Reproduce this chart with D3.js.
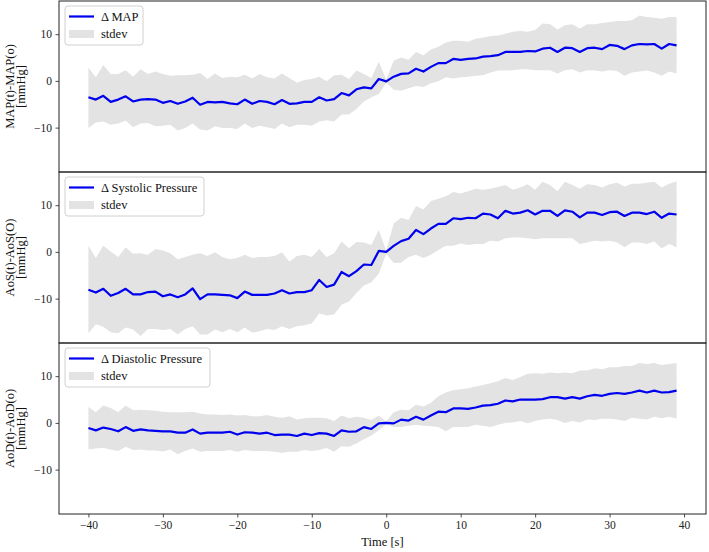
<!DOCTYPE html>
<html>
<head>
<meta charset="utf-8">
<script src="https://cdn.jsdelivr.net/npm/d3@7"></script>
<style>
  html, body { margin: 0; padding: 0; background: #fff; }
  svg { display: block; }
  text { font-family: "Liberation Serif", "DejaVu Serif", serif; }
</style>
</head>
<body>
<svg id="chart" width="709" height="552"></svg>
<script>
const time = [-40,-39,-38,-37,-36,-35,-34,-33,-32,-31,-30,-29,-28,-27,-26,-25,-24,-23,-22,-21,
  -20,-19,-18,-17,-16,-15,-14,-13,-12,-11,-10,-9,-8,-7,-6,-5,-4,-3,-2,-1,
  0,1,2,3,4,5,6,7,8,9,10,11,12,13,14,15,16,17,18,19,
  20,21,22,23,24,25,26,27,28,29,30,31,32,33,34,35,36,37,38,39];

const mapMean = [-3.5,-4.0,-3.2,-4.5,-4.0,-3.3,-4.4,-4.0,-3.9,-4.0,-4.7,-4.3,-4.9,-4.4,-3.6,-5.1,-4.5,-4.6,-4.5,-4.8,
  -5.0,-4.0,-4.9,-4.3,-4.5,-5.0,-4.1,-4.9,-4.8,-4.5,-4.5,-3.5,-4.2,-3.9,-2.6,-3.1,-1.8,-1.4,-1.6,0.4,
  -0.1,0.9,1.5,1.6,2.6,2.0,3.0,3.8,3.8,4.7,4.5,4.7,4.8,5.2,5.3,5.5,6.2,6.2,6.2,6.4,
  6.3,6.9,7.1,6.2,7.1,7.0,6.2,7.0,7.1,6.8,7.7,7.5,6.8,7.6,7.9,7.8,7.9,6.9,7.9,7.6];
const mapUpper = [2.8,0.8,3.4,1.5,1.5,2.3,0.9,2.5,1.5,2.0,1.5,1.1,1.2,1.2,1.3,1.7,0.4,1.6,0.6,0.9,
  0.8,1.3,0.5,1.5,0.8,0.5,1.6,0.6,-0.4,0.2,0.4,0.9,-0.1,1.2,1.3,0.4,2.2,1.5,0.6,4.1,
  0.3,4.3,5.0,4.5,6.2,5.5,6.7,7.3,8.2,8.6,8.6,8.4,9.0,9.3,9.6,9.7,10.1,10.5,10.7,10.5,
  10.9,12.3,12.1,11.0,11.9,12.1,11.2,12.1,12.1,12.4,12.6,12.8,12.8,13.0,14.0,13.7,13.5,13.3,13.7,13.7];
const mapLower = [-10.1,-8.9,-8.7,-9.4,-9.1,-8.5,-9.9,-9.1,-9.0,-9.7,-9.6,-9.4,-10.6,-10.1,-9.1,-10.4,-10.6,-9.7,-10.1,-10.1,
  -10.3,-9.1,-10.1,-9.6,-9.9,-10.3,-9.1,-9.9,-9.4,-9.4,-9.6,-8.7,-8.4,-8.7,-7.2,-7.2,-6.0,-4.4,-3.5,-2.8,
  -0.4,-1.9,-2.1,-1.6,-1.1,-1.3,-0.5,-0.1,0.8,0.5,0.8,0.9,1.1,1.2,1.8,2.2,2.2,2.3,2.5,2.5,
  2.3,2.3,2.3,1.6,2.3,2.5,1.8,2.3,2.2,2.0,2.3,2.1,1.1,1.8,2.0,2.2,1.8,1.1,2.0,1.6];

const sysMean = [-8.1,-8.7,-7.9,-9.4,-8.8,-7.9,-9.1,-9.1,-8.6,-8.5,-9.5,-9.1,-9.7,-9.1,-7.8,-10.1,-9.1,-9.1,-9.2,-9.3,
  -9.9,-8.5,-9.2,-9.2,-9.2,-8.9,-8.2,-8.9,-8.6,-8.6,-8.2,-6.0,-7.5,-7.0,-4.3,-5.2,-4.1,-2.7,-2.8,0.2,
  0.0,1.3,2.3,2.8,4.7,3.8,5.0,6.0,6.0,7.2,7.0,7.3,7.2,8.2,8.0,7.2,8.8,8.2,8.4,8.9,
  8.0,8.8,8.8,7.7,8.9,8.6,7.4,8.4,8.4,7.9,8.5,8.6,7.7,8.4,8.4,8.1,8.6,7.3,8.2,8.0];
const sysUpper = [1.3,-1.3,1.3,0.1,-1.1,1.0,-0.4,-0.3,-0.6,0.6,0.3,-0.3,-1.6,-1.1,-0.6,-0.3,-0.9,-0.1,-1.1,-1.6,
  -1.3,-0.6,-1.3,-1.1,-1.1,-0.9,-0.1,-2.1,-0.9,-0.6,-1.1,0.6,-1.1,-0.3,2.2,0.8,2.1,2.0,1.5,4.7,
  0.3,6.1,7.3,6.8,9.8,9.1,10.9,11.4,11.9,12.8,12.5,13.0,13.5,13.3,13.5,13.9,14.3,13.3,13.8,14.5,
  13.3,15.0,14.3,13.0,15.0,14.3,13.5,14.5,14.3,13.8,14.5,14.8,14.0,14.6,14.6,14.8,15.0,13.8,14.6,15.1];
const sysLower = [-17.4,-15.5,-16.0,-17.2,-17.4,-16.2,-16.6,-18.0,-16.5,-16.5,-16.7,-16.5,-17.7,-16.5,-15.9,-17.7,-17.7,-16.6,-17.2,-16.5,
  -17.2,-16.2,-17.3,-17.0,-16.5,-16.7,-15.9,-16.5,-15.9,-15.7,-15.3,-13.2,-13.6,-13.4,-11.3,-10.6,-8.8,-7.2,-6.5,-4.7,
  -0.4,-2.4,-2.3,-1.1,-0.6,-1.3,-0.6,0.4,1.3,1.3,1.8,1.5,1.7,1.7,2.4,2.2,2.9,3.1,3.1,2.9,
  2.7,2.9,2.9,2.9,2.9,2.9,1.7,2.0,2.4,2.2,2.4,2.0,1.0,2.0,2.0,1.7,2.2,0.8,1.7,1.0];

const diaMean = [-1.1,-1.6,-1.0,-1.3,-1.8,-0.9,-1.7,-1.4,-1.6,-1.7,-1.8,-1.8,-2.1,-2.1,-1.4,-2.3,-2.1,-2.1,-2.1,-1.9,
  -2.5,-2.0,-2.1,-2.3,-2.1,-2.6,-2.5,-2.5,-2.8,-2.3,-2.6,-2.2,-2.3,-2.8,-1.6,-1.9,-1.8,-0.9,-1.3,-0.1,
  0.0,-0.1,0.7,0.5,1.3,0.7,1.6,2.4,2.3,3.1,3.1,3.0,3.3,3.7,3.8,4.1,4.8,4.6,5.0,5.0,
  5.0,5.1,5.5,5.5,5.2,5.5,5.2,5.7,6.0,5.8,6.2,6.4,6.2,6.5,6.9,6.5,6.9,6.5,6.6,6.9];
const diaUpper = [3.4,2.3,3.7,3.2,2.3,3.7,2.7,2.8,2.7,2.6,2.4,2.3,2.3,2.3,2.4,2.0,1.8,1.8,1.7,1.8,
  1.6,1.7,1.4,1.4,1.7,1.3,1.1,1.4,0.7,1.0,1.1,1.1,1.0,0.4,1.6,1.0,1.3,1.1,0.6,1.6,
  0.3,2.3,2.8,2.7,3.9,3.5,4.3,5.7,6.5,7.0,7.2,7.4,7.8,8.1,8.5,8.9,9.6,9.2,9.8,10.5,
  10.6,10.5,10.8,10.6,10.8,10.6,11.2,11.2,11.7,11.5,11.9,11.9,12.2,12.2,12.8,12.6,12.8,12.4,12.6,12.8];
const diaLower = [-5.7,-5.5,-5.3,-5.7,-6.0,-5.1,-5.8,-5.7,-5.9,-5.9,-6.1,-5.7,-6.7,-6.0,-5.5,-6.2,-6.0,-6.0,-6.0,-5.8,
  -6.2,-5.8,-6.0,-6.0,-6.0,-6.2,-6.4,-6.2,-6.2,-5.8,-6.0,-5.8,-5.4,-6.2,-5.0,-5.1,-4.4,-3.5,-2.7,-1.6,
  -0.3,-0.9,-0.9,-0.6,-0.4,-0.6,-0.7,-0.9,-1.8,-0.9,-0.9,-0.9,-0.4,-0.6,-0.9,-0.4,0.0,0.1,0.4,-0.1,
  0.4,0.7,0.9,0.6,0.0,0.4,0.1,0.7,0.6,0.9,0.9,0.7,0.4,1.1,0.9,0.7,1.3,1.0,1.3,0.9];

const yTicks = [-10, 0, 10];
const xTicks = [-40, -30, -20, -10, 0, 10, 20, 30, 40];

const panelLabels = [
  ["MAP(t)-MAP(o)", "[mmHg]"],
  ["AoS(t)-AoS(O)", "[mmHg]"],
  ["AoD(t)-AoD(o)", "[mmHg]"]
];
const legendNames = ["\u0394 MAP", "\u0394 Systolic Pressure", "\u0394 Diastolic Pressure"];

const panels = [
  { mean: mapMean, upper: mapUpper, lower: mapLower },
  { mean: sysMean, upper: sysUpper, lower: sysLower },
  { mean: diaMean, upper: diaUpper, lower: diaLower }
];

const svg = d3.select("#chart");
const left = 59, right = 706, top0 = 1, bottom = 514;
const ph = (bottom - top0) / 3;

const x = d3.scaleLinear().domain([-43.95, 42.95]).range([left, right]);

panels.forEach((p, i) => {
  const pt = top0 + i * ph;
  const pb = pt + ph;
  const y = d3.scaleLinear().domain([-19.5, 17.1]).range([pb, pt]);
  const g = svg.append("g");

  const rows = time.map((t, k) => ({ t, m: p.mean[k], u: p.upper[k], l: p.lower[k] }));

  g.append("path")
    .datum(rows)
    .attr("fill", "#e3e3e3")
    .attr("d", d3.area().x(d => x(d.t)).y0(d => y(d.l)).y1(d => y(d.u)));

  g.append("path")
    .datum(rows)
    .attr("fill", "none")
    .attr("stroke", "#0000ee")
    .attr("stroke-width", 2.2)
    .attr("stroke-linejoin", "round")
    .attr("d", d3.line().x(d => x(d.t)).y(d => y(d.m)));

  // y axis
  const ya = g.append("g").attr("transform", `translate(${left},0)`)
    .call(d3.axisLeft(y).tickValues(yTicks).tickSize(3.5).tickPadding(3.5).tickFormat(d => d === 0 ? "0" : (d < 0 ? "\u2212" + Math.abs(d) : String(d))));
  ya.select(".domain").remove();
  ya.selectAll("line").attr("stroke", "#222").attr("stroke-width", 0.8);
  ya.selectAll("text").attr("font-size", 11.5).attr("fill", "#222")
    .style("font-family", '"Liberation Serif", serif');

  if (i === 2) {
    const xa = g.append("g").attr("transform", `translate(0,${pb})`)
      .call(d3.axisBottom(x).tickValues(xTicks).tickSize(3.5).tickPadding(3.5).tickFormat(d => d === 0 ? "0" : (d < 0 ? "\u2212" + Math.abs(d) : String(d))));
    xa.select(".domain").remove();
    xa.selectAll("line").attr("stroke", "#222").attr("stroke-width", 0.8);
    xa.selectAll("text").attr("font-size", 11.5).attr("fill", "#222")
      .style("font-family", '"Liberation Serif", serif');
  }

  // frame
  g.append("rect")
    .attr("x", left).attr("y", pt).attr("width", right - left).attr("height", ph)
    .attr("fill", "none").attr("stroke", "#222").attr("stroke-width", 1);

  // y label
  const cy = (pt + pb) / 2;
  const lab = g.append("text")
    .attr("transform", `translate(14,${cy}) rotate(-90)`)
    .attr("text-anchor", "middle")
    .attr("font-size", 12.5).attr("fill", "#111");
  lab.append("tspan").attr("x", 0).attr("y", 0).text(panelLabels[i][0]);
  lab.append("tspan").attr("x", 0).attr("y", 11).text(panelLabels[i][1]);

  // legend
  const lw = [78, 139, 145][i];
  const lg = g.append("g").attr("transform", `translate(65,${pt + 5})`);
  lg.append("rect").attr("x", 0).attr("y", 0).attr("width", lw).attr("height", 39)
    .attr("rx", 3).attr("fill", "#fff").attr("fill-opacity", 0.85)
    .attr("stroke", "#d0d0d0").attr("stroke-width", 1);
  lg.append("line").attr("x1", 4).attr("x2", 29).attr("y1", 10.5).attr("y2", 10.5)
    .attr("stroke", "#0000ee").attr("stroke-width", 2.2);
  lg.append("text").attr("x", 36).attr("y", 15).attr("font-size", 12.5).attr("fill", "#111").text(legendNames[i]);
  lg.append("rect").attr("x", 4).attr("y", 24).attr("width", 25).attr("height", 8).attr("fill", "#e3e3e3");
  lg.append("text").attr("x", 36).attr("y", 32).attr("font-size", 12.5).attr("fill", "#111").text("stdev");
});

svg.append("text")
  .attr("x", (left + right) / 2).attr("y", 546)
  .attr("text-anchor", "middle").attr("font-size", 12.5).attr("fill", "#111")
  .text("Time [s]");
</script>
</body>
</html>
